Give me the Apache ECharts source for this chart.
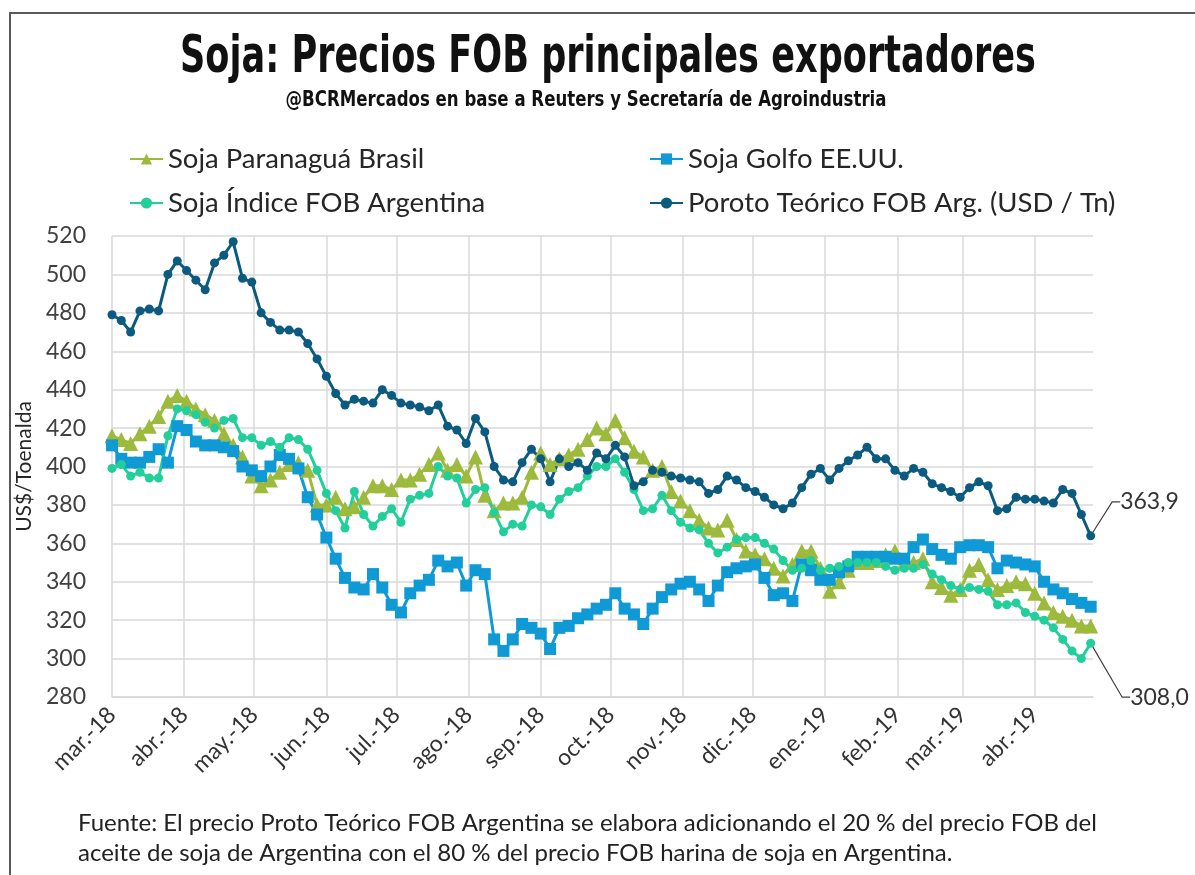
<!DOCTYPE html>
<html>
<head>
<meta charset="utf-8">
<script src="https://cdn.jsdelivr.net/npm/echarts@6/dist/echarts.min.js"></script>
<style>
  html, body { margin: 0; padding: 0; background: #fff; }
  #chart { width: 1195px; height: 875px; }
</style>
</head>
<body>
<div id="chart"></div>
<script>
// fechas de muestra (cada 4 dias)
const fechas = [
  '2018-03-01','2018-03-05','2018-03-09','2018-03-13','2018-03-17','2018-03-21','2018-03-25','2018-03-29',
  '2018-04-02','2018-04-06','2018-04-10','2018-04-14','2018-04-18','2018-04-22','2018-04-26','2018-04-30',
  '2018-05-04','2018-05-08','2018-05-12','2018-05-16','2018-05-20','2018-05-24','2018-05-28',
  '2018-06-01','2018-06-05','2018-06-09','2018-06-13','2018-06-17','2018-06-21','2018-06-25','2018-06-29',
  '2018-07-03','2018-07-07','2018-07-11','2018-07-15','2018-07-19','2018-07-23','2018-07-27','2018-07-31',
  '2018-08-04','2018-08-08','2018-08-12','2018-08-16','2018-08-20','2018-08-24','2018-08-28',
  '2018-09-01','2018-09-05','2018-09-09','2018-09-13','2018-09-17','2018-09-21','2018-09-25','2018-09-29',
  '2018-10-03','2018-10-07','2018-10-11','2018-10-15','2018-10-19','2018-10-23','2018-10-27','2018-10-31',
  '2018-11-04','2018-11-08','2018-11-12','2018-11-16','2018-11-20','2018-11-24','2018-11-28',
  '2018-12-02','2018-12-06','2018-12-10','2018-12-14','2018-12-18','2018-12-22','2018-12-26','2018-12-30',
  '2019-01-03','2019-01-07','2019-01-11','2019-01-15','2019-01-19','2019-01-23','2019-01-27','2019-01-31',
  '2019-02-04','2019-02-08','2019-02-12','2019-02-16','2019-02-20','2019-02-24','2019-02-28',
  '2019-03-04','2019-03-08','2019-03-12','2019-03-16','2019-03-20','2019-03-24','2019-03-28',
  '2019-04-01','2019-04-05','2019-04-09','2019-04-13','2019-04-17','2019-04-21','2019-04-25'
];

const paranagua = [
  416, 414, 412, 417, 421, 426, 434, 437,
  434, 430, 427, 424, 417, 411, 405, 395,
  390, 393, 397, 401, 402, 398, 380,
  380, 384, 378, 379, 384, 390, 390, 388,
  393, 393, 396, 401, 407, 398, 401, 395,
  405, 385, 377, 381, 381, 384, 397,
  407, 401, 404, 406, 409, 414, 420, 417,
  424, 415, 408, 405, 398, 400, 387, 382,
  377, 372, 368, 367, 372, 362, 356,
  354, 352, 347, 343, 349, 356, 356, 347,
  335, 340, 346, 350, 350, 351, 354, 356,
  350, 350, 352, 340, 337, 333, 336,
  346, 349, 341, 336, 338, 340, 339,
  334, 329, 324, 322, 320, 317, 317
];

const golfo = [
  411, 404, 402, 402, 405, 409, 402, 421,
  419, 413, 411, 411, 410, 408, 400, 398,
  395, 400, 406, 404, 399, 384, 375,
  363, 352, 342, 337, 336, 344, 337, 328,
  324, 334, 338, 341, 351, 348, 350, 338,
  346, 344, 310, 304, 310, 318, 316,
  313, 305, 316, 317, 321, 323, 326, 328,
  334, 326, 323, 318, 326, 332, 336, 339,
  340, 336, 330, 338, 345, 347, 348,
  349, 342, 333, 334, 330, 349, 346, 341,
  341, 345, 348, 353, 353, 353, 353, 352,
  352, 358, 362, 357, 354, 352, 358,
  359, 359, 358, 347, 351, 350, 349,
  348, 340, 336, 334, 331, 329, 327
];

const indiceArg = [
  399, 401, 395, 397, 394, 394, 416, 430,
  429, 427, 423, 420, 424, 425, 415, 415,
  411, 413, 410, 415, 414, 409, 398,
  386, 377, 368, 387, 375, 369, 374, 378,
  371, 383, 385, 386, 400, 395, 394, 381,
  388, 389, 376, 366, 370, 369, 380,
  379, 375, 383, 387, 389, 395, 400, 400,
  404, 397, 388, 377, 378, 385, 377, 371,
  368, 367, 360, 355, 358, 362, 363,
  363, 360, 357, 351, 346, 347, 351, 346,
  347, 348, 350, 350, 350, 350, 348, 346,
  347, 347, 349, 344, 341, 338, 336,
  337, 336, 335, 328, 328, 329, 324,
  322, 320, 316, 310, 304, 300, 308.0
];

const poroto = [
  479, 476, 470, 481, 482, 481, 500, 507,
  502, 497, 492, 506, 510, 517, 498, 496,
  480, 475, 471, 471, 470, 464, 456,
  447, 438, 432, 435, 434, 433, 440, 437,
  433, 432, 431, 429, 432, 421, 419, 412,
  425, 418, 400, 393, 392, 402, 409,
  404, 392, 404, 400, 402, 398, 407, 404,
  411, 405, 390, 392, 398, 397, 395, 394,
  393, 392, 386, 388, 395, 393, 389,
  387, 384, 380, 378, 381, 389, 396, 399,
  393, 399, 403, 406, 410, 404, 404, 398,
  395, 399, 397, 391, 389, 387, 384,
  389, 392, 390, 377, 378, 384, 383,
  383, 382, 381, 388, 386, 375, 363.9
];

const meses = ['ene.', 'feb.', 'mar.', 'abr.', 'may.', 'jun.', 'jul.', 'ago.', 'sep.', 'oct.', 'nov.', 'dic.'];

const fuente = 'Fuente: El precio Proto Teórico FOB Argentina se elabora adicionando el 20 % del precio FOB del\n' +
  'aceite de soja de Argentina con el 80 % del precio FOB harina de soja en Argentina.';

// eje diario: un dia por categoria
const dias = [];
for (let t = Date.UTC(2018, 2, 1); t <= Date.UTC(2019, 3, 26); t += 86400000) {
  dias.push(new Date(t).toISOString().slice(0, 10));
}
const esInicioMes = (i, v) => v.slice(8) === '01';

const FONT = 'Lato, "Open Sans", sans-serif';
const FONT_TIT = '"DejaVu Sans", sans-serif';

function armarSerie(nombre, valores, simbolo, tam, color, ancho, etiqueta) {
  const data = fechas.map((f, i) => [f, valores[i]]);
  if (etiqueta) {
    const ult = data.length - 1;
    data[ult] = {
      value: data[ult],
      label: {
        show: true,
        position: 'right',
        formatter: valores[ult].toFixed(1).replace('.', ','),
        fontFamily: FONT,
        fontSize: 23,
        color: '#333'
      },
      labelLine: { show: true, length2: 8, lineStyle: { color: '#404040', width: 1.2 } }
    };
  }
  return {
    name: nombre,
    type: 'line',
    data: data,
    symbol: simbolo,
    symbolSize: tam,
    showAllSymbol: true,
    itemStyle: { color: color },
    lineStyle: { color: color, width: ancho },
    labelLayout: etiqueta ? { dx: etiqueta[0], dy: etiqueta[1] } : undefined,
    emphasis: { disabled: true }
  };
}

const textoLeyenda = { fontFamily: FONT, fontSize: 27.5, color: '#262626' };

const chart = echarts.init(document.getElementById('chart'));
chart.setOption({
  animation: false,
  backgroundColor: '#fff',
  grid: { left: 112, right: 102, top: 236, bottom: 178 },
  legend: [
    {
      left: 124, top: 140, orient: 'vertical', itemGap: 16, itemWidth: 33, itemHeight: 14,
      data: ['Soja Paranaguá Brasil', 'Soja Índice FOB Argentina'],
      textStyle: textoLeyenda
    },
    {
      left: 644, top: 140, orient: 'vertical', itemGap: 16, itemWidth: 33, itemHeight: 14,
      data: ['Soja Golfo EE.UU.', 'Poroto Teórico FOB Arg. (USD / Tn)'],
      textStyle: textoLeyenda
    }
  ],
  xAxis: {
    type: 'category',
    data: dias,
    boundaryGap: false,
    axisLine: { lineStyle: { color: '#d9d9d9', width: 1.5 } },
    axisTick: { show: false },
    splitLine: { show: true, interval: esInicioMes, lineStyle: { color: '#d9d9d9', width: 1.5 } },
    axisLabel: {
      interval: esInicioMes,
      rotate: 45,
      margin: 14,
      fontFamily: FONT,
      fontSize: 23,
      color: '#333',
      formatter: v => meses[+v.slice(5, 7) - 1] + '-' + v.slice(2, 4)
    }
  },
  yAxis: {
    type: 'value',
    min: 280,
    max: 520,
    interval: 20,
    name: 'US$/Toenalda',
    nameLocation: 'middle',
    nameGap: 76,
    nameTextStyle: { fontFamily: FONT, fontSize: 21, color: '#262626' },
    axisLine: { show: false },
    axisTick: { show: false },
    splitLine: { lineStyle: { color: '#d9d9d9', width: 1.5 } },
    axisLabel: { margin: 26, fontFamily: FONT, fontSize: 23, color: '#404040' }
  },
  series: [
    armarSerie('Soja Paranaguá Brasil', paranagua, 'triangle', 15, '#9dba3c', 3),
    armarSerie('Soja Golfo EE.UU.', golfo, 'rect', 12, '#0f9ad6', 3),
    armarSerie('Soja Índice FOB Argentina', indiceArg, 'circle', 9, '#22cf9b', 3, [30, 54]),
    armarSerie('Poroto Teórico FOB Arg. (USD / Tn)', poroto, 'circle', 9, '#0b5a7f', 3, [20, -34])
  ],
  graphic: [
    {
      type: 'rect', z: -10, silent: true,
      shape: { x: 10, y: 13, width: 1300, height: 1000 },
      style: { fill: 'none', stroke: '#595959', lineWidth: 2 }
    },
    {
      type: 'text', x: 608, y: 58, scaleX: 0.675, silent: true,
      style: {
        text: 'Soja: Precios FOB principales exportadores',
        font: 'bold 52px ' + FONT_TIT,
        fill: '#111', align: 'center', verticalAlign: 'middle'
      }
    },
    {
      type: 'text', x: 586, y: 101, scaleX: 0.79, silent: true,
      style: {
        text: '@BCRMercados en base a Reuters y Secretaría de Agroindustria',
        font: 'bold 21px ' + FONT_TIT,
        fill: '#111', align: 'center', verticalAlign: 'middle'
      }
    },
    {
      type: 'text', x: 78, y: 808, silent: true,
      style: {
        text: fuente,
        font: '24px ' + FONT,
        lineHeight: 30,
        fill: '#222', align: 'left', verticalAlign: 'top'
      }
    }
  ]
});
</script>
</body>
</html>
